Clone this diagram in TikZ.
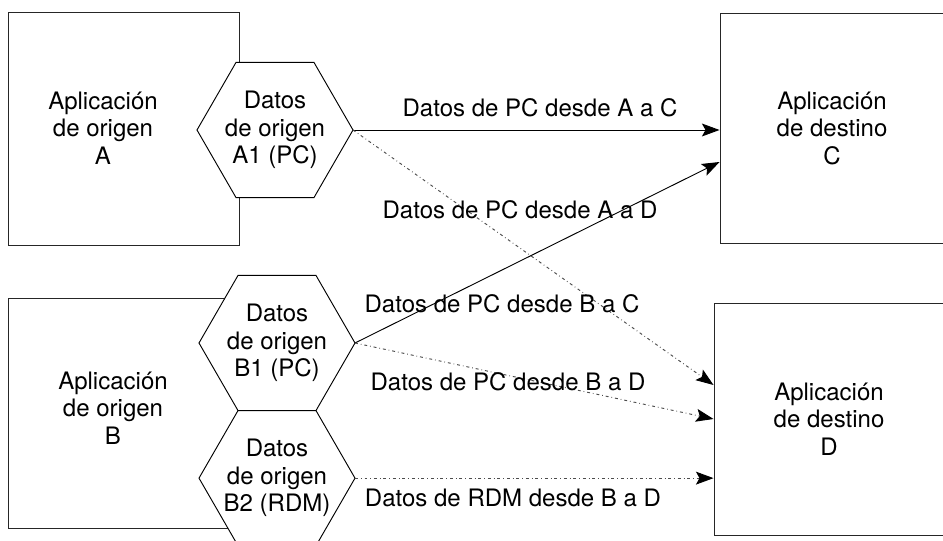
\documentclass[tikz,border=0pt]{standalone}
\usepackage{fontspec}
\setmainfont{TeX Gyre Heros}
\usetikzlibrary{shapes.geometric,arrows.meta,positioning,calc}

\begin{document}
\begin{tikzpicture}[x=0.03cm,y=-0.03cm,
	every node/.style={align=center,font=\fontsize{20.5}{23.5}\selectfont},
	appbox/.style={draw=black!85,line width=0.8pt,rectangle},
	hexa/.style={draw,line width=0.8pt,fill=white,regular polygon,regular polygon sides=6,minimum size=4.68cm,inner sep=-8pt,outer sep=0pt},
	flow/.style={line width=0.8pt,-{Stealth[length=15pt,width=11pt,inset=3pt,black]}},
	dotflow/.style={flow,black!70,dash pattern=on 2.5pt off 2.5pt on 0.6pt off 2.5pt}]
	\useasboundingbox (0,0) rectangle (943,541);
	\node[appbox,minimum width=6.93cm,minimum height=6.99cm] (a) at (123.5,128.5) {};
	\node[appbox,minimum width=6.93cm,minimum height=6.9cm] (b) at (123.5,413) {};
	\node[appbox,minimum width=6.72cm,minimum height=6.9cm] (c) at (832,128) {Aplicación\\de destino\\C};
	\node[appbox,minimum width=6.9cm,minimum height=6.96cm] (d) at (829,419) {Aplicación\\de destino\\D};
	\node (atext) at (103,128) {Aplicación\\de origen\\A};
	\node (btext) at (113,408) {Aplicación\\de origen\\B};
	\node[hexa] (a1) at (275,130) {Datos\\de origen\\A1 (PC)};
	\node[hexa] (b1) at (277,343) {Datos\\de origen\\B1 (PC)};
	\node[hexa,below=0pt of b1] (b2) {Datos\\de origen\\B2 (RDM)};
	\draw[flow] (a1.east) -- (a1.east -| c.west);
	\draw[flow] (b1.east) -- ($(c.west)+(0,34)$);
	\draw[dotflow] (a1.east) -- ($(d.west)+(0,-34)$);
	\draw[dotflow] (b1.east) -- (d.west);
	\draw[dotflow] (b2.east) -- (b2.east -| d.west);
	\node (lac) at (540,108) {Datos de PC desde A a C};
	\node (lad) at (520,210) {Datos de PC desde A a D};
	\node (lbc) at (502,304) {Datos de PC desde B a C};
	\node (lbd) at (508,382) {Datos de PC desde B a D};
	\node (lrdm) at (513,498) {Datos de RDM desde B a D};
\end{tikzpicture}
\end{document}
